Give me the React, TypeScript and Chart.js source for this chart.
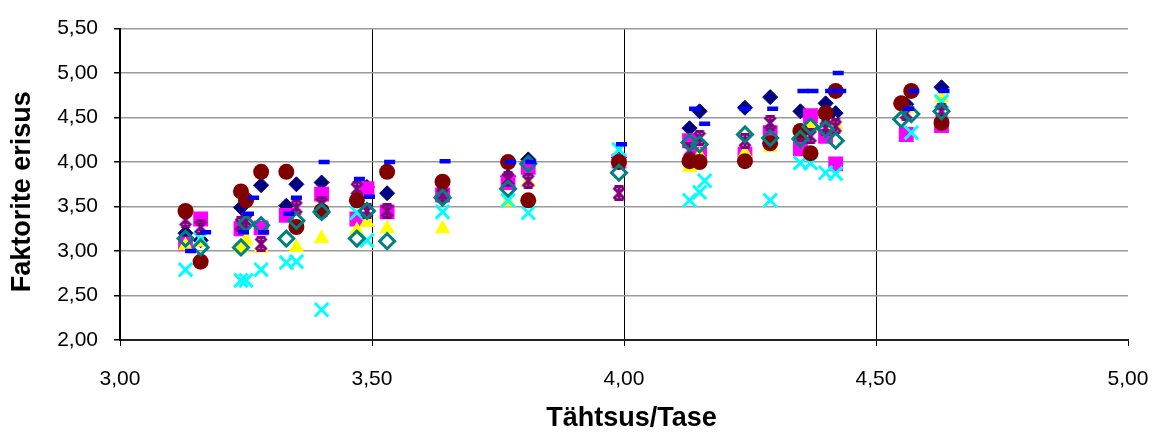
import React, { useEffect, useRef } from "react";
import { Chart, registerables } from "chart.js";

Chart.register(...registerables);

// Series 1 – navy diamond
const S1_X = [3.13, 3.16, 3.24, 3.28, 3.33, 3.35, 3.40, 3.49, 3.53, 3.64, 3.77, 3.81, 3.99, 4.13, 4.15, 4.24, 4.29, 4.35, 4.40, 4.42, 4.56, 4.63];
const S1_Y = [3.20, 3.12, 3.49, 3.74, 3.51, 3.75, 3.77, 3.72, 3.65, 3.62, 3.84, 4.03, 4.05, 4.38, 4.57, 4.61, 4.73, 4.57, 4.66, 4.55, 4.65, 4.84];
// Series 2 – magenta square
const S2_X = [3.13, 3.16, 3.24, 3.28, 3.33, 3.40, 3.47, 3.49, 3.53, 3.64, 3.77, 3.81, 3.99, 4.13, 4.15, 4.24, 4.29, 4.35, 4.37, 4.40, 4.42, 4.56, 4.63];
const S2_Y = [3.08, 3.36, 3.25, 3.26, 3.40, 3.64, 3.36, 3.70, 3.44, 3.63, 3.77, 3.94, 4.01, 4.24, 4.09, 4.09, 4.33, 4.15, 4.52, 4.29, 3.98, 4.31, 4.41];
// Series 3 – yellow triangle
const S3_X = [3.13, 3.16, 3.24, 3.25, 3.28, 3.35, 3.40, 3.47, 3.49, 3.53, 3.64, 3.77, 3.81, 3.99, 4.13, 4.15, 4.24, 4.29, 4.35, 4.37, 4.42, 4.56, 4.63];
const S3_Y = [3.06, 3.10, 3.03, 3.12, 3.03, 3.04, 3.14, 3.23, 3.32, 3.25, 3.25, 3.55, 3.77, 4.00, 3.94, 4.07, 4.10, 4.16, 4.30, 4.40, 4.42, 4.60, 4.72];
// Series 4 – cyan cross
const S4_X = [3.13, 3.16, 3.24, 3.25, 3.28, 3.33, 3.35, 3.40, 3.47, 3.49, 3.64, 3.77, 3.81, 3.99, 4.13, 4.15, 4.16, 4.29, 4.35, 4.37, 4.40, 4.42, 4.57, 4.63];
const S4_Y = [2.79, 3.14, 2.67, 2.67, 2.79, 2.87, 2.88, 2.34, 3.43, 3.12, 3.44, 3.57, 3.43, 4.14, 3.57, 3.66, 3.79, 3.57, 3.99, 3.99, 3.88, 3.87, 4.33, 4.68];
// Series 5 – purple star
const S5_X = [3.13, 3.16, 3.24, 3.25, 3.28, 3.35, 3.40, 3.47, 3.49, 3.53, 3.64, 3.77, 3.81, 3.99, 4.13, 4.15, 4.24, 4.29, 4.35, 4.37, 4.40, 4.42, 4.56, 4.63];
const S5_Y = [3.35, 3.27, 3.30, 3.34, 3.08, 3.49, 3.53, 3.70, 3.45, 3.45, 3.63, 3.81, 3.79, 3.65, 4.13, 4.27, 4.24, 4.44, 4.32, 4.29, 4.38, 4.40, 4.55, 4.57];
// Series 6 – maroon circle
const S6_X = [3.13, 3.16, 3.24, 3.25, 3.28, 3.33, 3.35, 3.40, 3.47, 3.53, 3.64, 3.77, 3.81, 3.99, 4.13, 4.15, 4.24, 4.29, 4.35, 4.37, 4.40, 4.42, 4.55, 4.57, 4.63];
const S6_Y = [3.45, 2.88, 3.67, 3.57, 3.89, 3.89, 3.27, 3.45, 3.57, 3.89, 3.78, 4.00, 3.57, 4.00, 4.01, 4.00, 4.01, 4.21, 4.35, 4.10, 4.55, 4.80, 4.66, 4.80, 4.44];
// Series 7 – teal hollow diamond
const S7_X = [3.13, 3.16, 3.24, 3.25, 3.28, 3.33, 3.35, 3.40, 3.47, 3.49, 3.53, 3.64, 3.77, 3.81, 3.99, 4.13, 4.15, 4.24, 4.29, 4.35, 4.37, 4.40, 4.42, 4.55, 4.57, 4.63];
const S7_Y = [3.14, 3.04, 3.04, 3.31, 3.29, 3.14, 3.34, 3.44, 3.14, 3.45, 3.11, 3.60, 3.70, 3.98, 3.88, 4.22, 4.20, 4.31, 4.27, 4.26, 4.40, 4.37, 4.24, 4.48, 4.54, 4.57];
// Series 8 – blue dash
const S8_X = [3.14, 3.17, 3.245, 3.255, 3.265, 3.285, 3.335, 3.35, 3.405, 3.475, 3.495, 3.535, 3.645, 3.775, 3.815, 3.995, 4.14, 4.16, 4.24, 4.295, 4.355, 4.375, 4.41, 4.425, 4.43, 4.565, 4.575, 4.635];
const S8_Y = [3.00, 3.21, 3.21, 3.42, 3.60, 3.21, 3.42, 3.60, 4.00, 3.81, 3.61, 4.00, 4.01, 4.00, 4.00, 4.20, 4.60, 4.43, 4.60, 4.60, 4.80, 4.80, 4.80, 5.00, 4.80, 4.60, 4.80, 4.80];

const X_TITLE = "\u00A0\u00A0Tähtsus/Tase";
const Y_TITLE = "Faktorite erisus\u00A0\u00A0";

const pts = (xs: number[], ys: number[]) => xs.map((x, i) => ({ x, y: ys[i] }));
const fmt = (v: number) => v.toFixed(2).replace(".", ",");

function makeStar(color: string) {
  const c = document.createElement("canvas");
  c.width = 16;
  c.height = 16;
  const g = c.getContext("2d")!;
  g.strokeStyle = color;
  g.lineWidth = 3;
  g.lineCap = "butt";
  g.beginPath();
  g.moveTo(2.5, 2.5); g.lineTo(13.5, 13.5);
  g.moveTo(13.5, 2.5); g.lineTo(2.5, 13.5);
  g.moveTo(8, 1); g.lineTo(8, 15);
  g.moveTo(3.5, 1.5); g.lineTo(12.5, 1.5);
  g.moveTo(3.5, 14.5); g.lineTo(12.5, 14.5);
  g.stroke();
  return c;
}

export default function App() {
  const ref = useRef<HTMLCanvasElement | null>(null);
  useEffect(() => {
    if (!ref.current) return;
    const star = makeStar("#800080");
    const vGrid = (v: number) => (Math.abs(v - 3) < 1e-6 || Math.abs(v - 5) < 1e-6 ? "rgba(0,0,0,0)" : "#000000");
    const font = "'Liberation Sans', Arial, sans-serif";
    const chart = new Chart(ref.current, {
      type: "scatter",
      data: {
        datasets: [
          { label: "1", data: pts(S1_X, S1_Y), pointStyle: "rectRot", pointRadius: 7.5, backgroundColor: "#000080", borderColor: "#000080", borderWidth: 1, order: 8 },
          { label: "2", data: pts(S2_X, S2_Y), pointStyle: "rect", pointRadius: 10.5, backgroundColor: "#FF00FF", borderColor: "#FF00FF", borderWidth: 0, order: 7 },
          { label: "3", data: pts(S3_X, S3_Y), pointStyle: "triangle", pointRadius: 9, backgroundColor: "#FFFF00", borderColor: "#FFFF00", borderWidth: 0, order: 6 },
          { label: "4", data: pts(S4_X, S4_Y), pointStyle: "crossRot", pointRadius: 9.5, backgroundColor: "#00FFFF", borderColor: "#00FFFF", borderWidth: 3, order: 5 },
          { label: "5", data: pts(S5_X, S5_Y), pointStyle: star as any, pointRadius: 8, backgroundColor: "#800080", borderColor: "#800080", order: 4 },
          { label: "6", data: pts(S6_X, S6_Y), pointStyle: "circle", pointRadius: 8, backgroundColor: "#800000", borderColor: "#800000", borderWidth: 0, order: 3 },
          { label: "7", data: pts(S7_X, S7_Y), pointStyle: "rectRot", pointRadius: 7.5, backgroundColor: "rgba(0,0,0,0)", borderColor: "#008080", borderWidth: 3, order: 2 },
          { label: "8", data: pts(S8_X, S8_Y), pointStyle: "line", pointRadius: 5.5, backgroundColor: "#0000FF", borderColor: "#0000FF", borderWidth: 4.5, order: 1 },
        ],
      },
      options: {
        animation: false,
        responsive: false,
        maintainAspectRatio: false,
        layout: { padding: { top: 27, right: 31, bottom: 0, left: 0 } },
        plugins: { legend: { display: false }, tooltip: { enabled: false } },
        scales: {
          x: {
            type: "linear",
            min: 3,
            max: 5,
            afterFit: (s: any) => { s.height = 93; s.paddingRight = 0; s.paddingLeft = 0; },
            ticks: {
              stepSize: 0.5,
              color: "#000",
              padding: 21,
              font: { family: font, size: 21 },
              callback: (v: any) => fmt(Number(v)),
            },
            grid: {
              color: (ctx: any) => vGrid(ctx.tick ? ctx.tick.value : 0),
              tickColor: "#000",
              tickLength: 6,
              lineWidth: 1,
            },
            border: { display: true, color: "#222", width: 2 },
            title: {
              display: true,
              text: X_TITLE,
              color: "#000",
              font: { family: font, size: 27, weight: "bold", lineHeight: 1.1 },
              padding: { top: 0, bottom: 0 },
            },
          },
          y: {
            type: "linear",
            min: 2,
            max: 5.5,
            afterFit: (s: any) => { s.width = 120; },
            ticks: {
              stepSize: 0.5,
              color: "#000",
              padding: 16,
              font: { family: font, size: 21 },
              callback: (v: any) => fmt(Number(v)),
            },
            grid: {
              color: "#9a9a9a",
              tickColor: "#000",
              tickLength: 6,
              lineWidth: 1.5,
            },
            border: { display: true, color: "#000", width: 2 },
            title: {
              display: true,
              text: Y_TITLE,
              color: "#000",
              font: { family: font, size: 27, weight: "bold", lineHeight: 1.1 },
              padding: { top: 8, bottom: 0 },
            },
          },
        },
      },
    });
    return () => chart.destroy();
  }, []);
  return (
    <div style={{ position: "absolute", left: 0, top: 0, width: 1159, height: 433, background: "#fff" }}>
      <canvas ref={ref} width={1159} height={433} style={{ width: 1159, height: 433, display: "block" }} />
    </div>
  );
}
